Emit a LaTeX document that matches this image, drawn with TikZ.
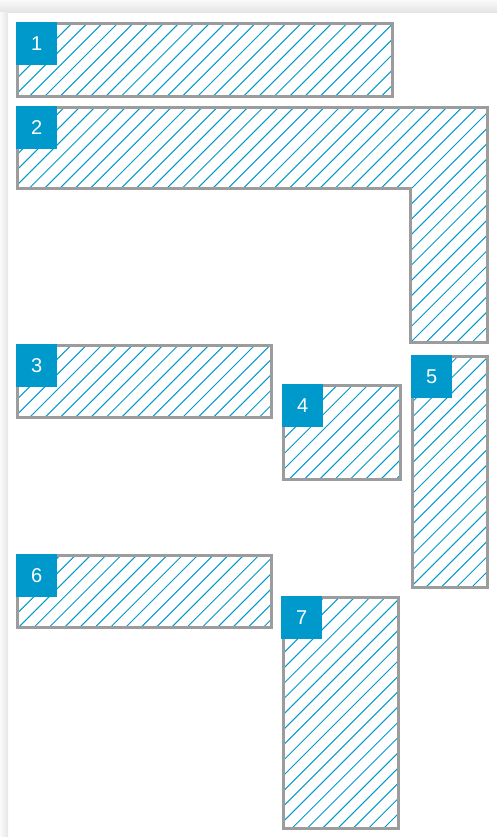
\documentclass[tikz,border=0pt]{standalone}
\usepackage{fontspec}
\setsansfont{Liberation Sans}
\definecolor{tagblue}{HTML}{0099CC}
\definecolor{rimgray}{HTML}{9C9C9C}
\tikzset{
  hatch/.style={draw=tagblue, line width=1pt},
  slab/.style={draw=rimgray, line width=3pt,
    path picture={\foreach \k in {0,...,88}
      \draw[hatch] ({3.3+15.3*\k-837},837) -- ({3.3+15.3*\k},0);}},
  tag/.style={fill=tagblue, text=white, anchor=north west, inner sep=0pt,
    minimum width=41pt, minimum height=43pt, font=\sffamily\fontsize{20}{20}\selectfont}
}
\begin{document}
\begin{tikzpicture}[x=1pt,y=-1pt]
	\useasboundingbox (0,0) rectangle (497,837);
	% shadow round the card
	\shade[top color=gray!4, bottom color=gray!22] (0,0) rectangle (497,13);
	\shade[left color=gray!4, right color=gray!20] (0,13) rectangle (8,837);
	% slabs
	\draw[slab] (17.5,23.5) rectangle (392.5,96.5);
	\draw[slab] (17.5,107.5) -- (487.5,107.5) -- (487.5,342.5) -- (410.5,342.5)
		-- (410.5,188.5) -- (17.5,188.5) -- cycle;
	\draw[slab] (17.5,345.5) rectangle (271.5,417.5);
	\draw[slab] (283.5,385.5) rectangle (400.5,479.5);
	\draw[slab] (412.5,356.5) rectangle (487.5,587.5);
	\draw[slab] (17.5,555.5) rectangle (271.5,627.5);
	\draw[slab] (283.5,597.5) rectangle (398.5,828.5);
	% number tags
	\node[tag] (t1) at (16,22) {1};
	\node[tag] (t2) at (16,106) {2};
	\node[tag] (t3) at (16,344) {3};
	\node[tag] (t4) at (282,384) {4};
	\node[tag] (t5) at (411,355) {5};
	\node[tag] (t6) at (16,554) {6};
	\node[tag] (t7) at (281,596) {7};
\end{tikzpicture}
\end{document}
